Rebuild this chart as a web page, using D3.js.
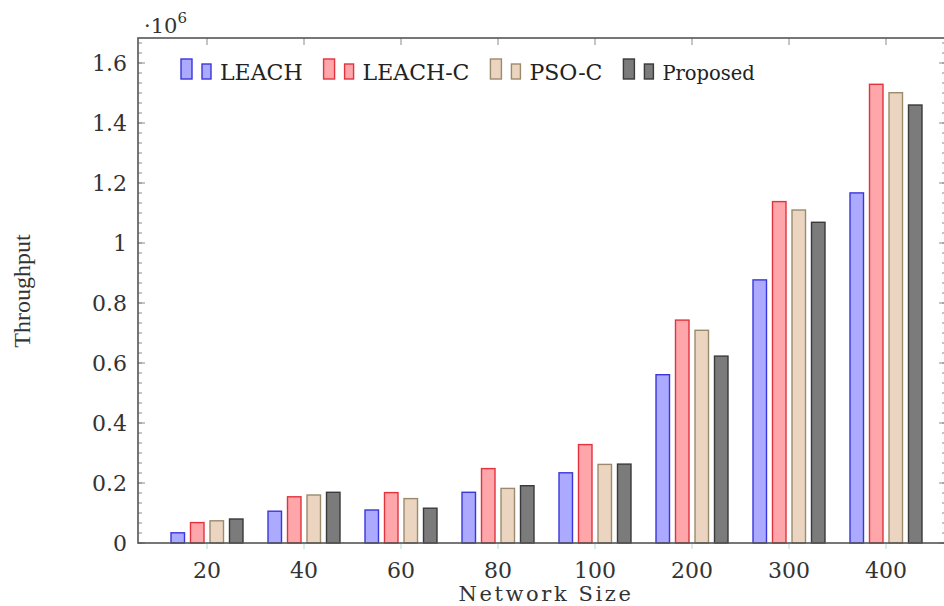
<!DOCTYPE html>
<html>
<head>
<meta charset="utf-8">
<script src="https://cdn.jsdelivr.net/npm/d3@7"></script>
<style>
  body { margin: 0; background: #fff; }
</style>
</head>
<body>
<div id="chart"></div>
<script>
// data (throughput in millions)
const sizes = ["20", "40", "60", "80", "100", "200", "300", "400"];
const seriesNames = ["LEACH", "LEACH-C", "PSO-C", "Proposed"];
const leach    = [0.034, 0.106, 0.110, 0.169, 0.234, 0.561, 0.877, 1.167];
const leachC   = [0.068, 0.154, 0.168, 0.248, 0.328, 0.743, 1.138, 1.529];
const psoC     = [0.074, 0.160, 0.148, 0.182, 0.262, 0.709, 1.110, 1.501];
const proposed = [0.080, 0.169, 0.116, 0.191, 0.263, 0.623, 1.069, 1.460];
const yTicks = [0, 0.2, 0.4, 0.6, 0.8, 1, 1.2, 1.4, 1.6];

const allSeries = [leach, leachC, psoC, proposed];
const fills   = ["#abaaff", "#ffa6aa", "#ebd5c1", "#7b7b7b"];
const strokes = ["#3a36dd", "#e2323d", "#9b8b6c", "#3a3a3a"];

const W = 944, H = 606;
const frame = { left: 138, top: 38, right: 946, bottom: 543 };

const svg = d3.select("#chart").append("svg")
  .attr("width", W)
  .attr("height", H)
  .style("font-family", "'DejaVu Serif', serif");

// scales
const x = d3.scalePoint()
  .domain(sizes)
  .range([207, 886]);
const y = d3.scaleLinear()
  .domain([0, 1.68])
  .range([frame.bottom, frame.top + 1]);

const barStep = 19.5, barW = 13.5;

// bars
seriesNames.forEach((name, s) => {
  svg.append("g")
    .selectAll("rect")
    .data(allSeries[s])
    .join("rect")
    .attr("x", (d, i) => x(sizes[i]) + (s - 1.5) * barStep - barW / 2)
    .attr("y", d => y(d))
    .attr("width", barW)
    .attr("height", d => y(0) - y(d))
    .attr("fill", fills[s])
    .attr("stroke", strokes[s])
    .attr("stroke-width", 1.4);
});

// minor + major ticks on left and right (inside)
const minor = d3.range(0, 1.68, 0.2 / 6);
const tg = svg.append("g").attr("stroke", "#8a8a8a").attr("stroke-width", 1);
tg.selectAll(".ml").data(minor).join("line")
  .attr("x1", frame.left).attr("x2", frame.left + 4)
  .attr("y1", d => y(d)).attr("y2", d => y(d));
tg.selectAll(".Ml").data(yTicks).join("line")
  .attr("x1", frame.left).attr("x2", frame.left + 7)
  .attr("y1", d => y(d)).attr("y2", d => y(d));
tg.selectAll(".mr").data(minor).join("line")
  .attr("x1", frame.right).attr("x2", frame.right - 4)
  .attr("y1", d => y(d)).attr("y2", d => y(d));
tg.selectAll(".Mr").data(yTicks).join("line")
  .attr("x1", frame.right).attr("x2", frame.right - 7)
  .attr("y1", d => y(d)).attr("y2", d => y(d));
// x ticks: top inside, bottom below
tg.selectAll(".xt").data(sizes).join("line")
  .attr("x1", d => x(d)).attr("x2", d => x(d))
  .attr("y1", frame.top).attr("y2", frame.top + 7);
tg.selectAll(".xb").data(sizes).join("line")
  .attr("x1", d => x(d)).attr("x2", d => x(d))
  .attr("y1", frame.bottom).attr("y2", frame.bottom + 6)
  .attr("stroke", "#b8d8d8");

// frame
svg.append("rect")
  .attr("x", frame.left).attr("y", frame.top)
  .attr("width", frame.right - frame.left)
  .attr("height", frame.bottom - frame.top)
  .attr("fill", "none")
  .attr("stroke", "#555")
  .attr("stroke-width", 1.6);

// y tick labels
svg.append("g").selectAll("text").data(yTicks).join("text")
  .attr("x", 127)
  .attr("y", d => y(d))
  .attr("dy", "0.36em")
  .attr("text-anchor", "end")
  .style("font-size", "22px")
  .attr("fill", "#333")
  .text(d => d === 0 || d === 1 ? d : d.toFixed(1));

// x tick labels
svg.append("g").selectAll("text").data(sizes).join("text")
  .attr("x", d => x(d))
  .attr("y", 578)
  .attr("text-anchor", "middle")
  .style("font-size", "22px")
  .attr("fill", "#333")
  .text(d => d);

// axis titles
svg.append("text")
  .attr("x", 546).attr("y", 601)
  .attr("text-anchor", "middle")
  .style("font-size", "21px")
  .style("letter-spacing", "2.6px")
  .attr("fill", "#333")
  .text("Network Size");

svg.append("text")
  .attr("transform", "translate(30,291) rotate(-90)")
  .attr("text-anchor", "middle")
  .style("font-family", "'Liberation Serif', serif")
  .style("font-size", "24px")
  .attr("fill", "#333")
  .text("Throughput");

// scale factor label
const sf = svg.append("text")
  .attr("x", 144).attr("y", 33)
  .style("font-size", "21px")
  .attr("fill", "#333");
sf.append("tspan").text("\u00b710");
sf.append("tspan").attr("dy", -10).style("font-size", "15px").text("6");

// legend
const legend = svg.append("g");
let lx = 181;
seriesNames.forEach((name, s) => {
  const g = legend.append("g").attr("transform", `translate(${lx},0)`);
  g.append("rect").attr("x", 0).attr("y", 59).attr("width", 11).attr("height", 20)
    .attr("fill", fills[s]).attr("stroke", strokes[s]).attr("stroke-width", 1.4);
  g.append("rect").attr("x", 21).attr("y", 64).attr("width", 9).attr("height", 15)
    .attr("fill", fills[s]).attr("stroke", strokes[s]).attr("stroke-width", 1.4);
  const t = g.append("text")
    .attr("x", 39).attr("y", 80)
    .style("font-size", name === "Proposed" ? "19.5px" : "22px")
    .attr("fill", "#222")
    .text(name);
  lx += 39 + t.node().getComputedTextLength() + 21;
});
</script>
</body>
</html>
